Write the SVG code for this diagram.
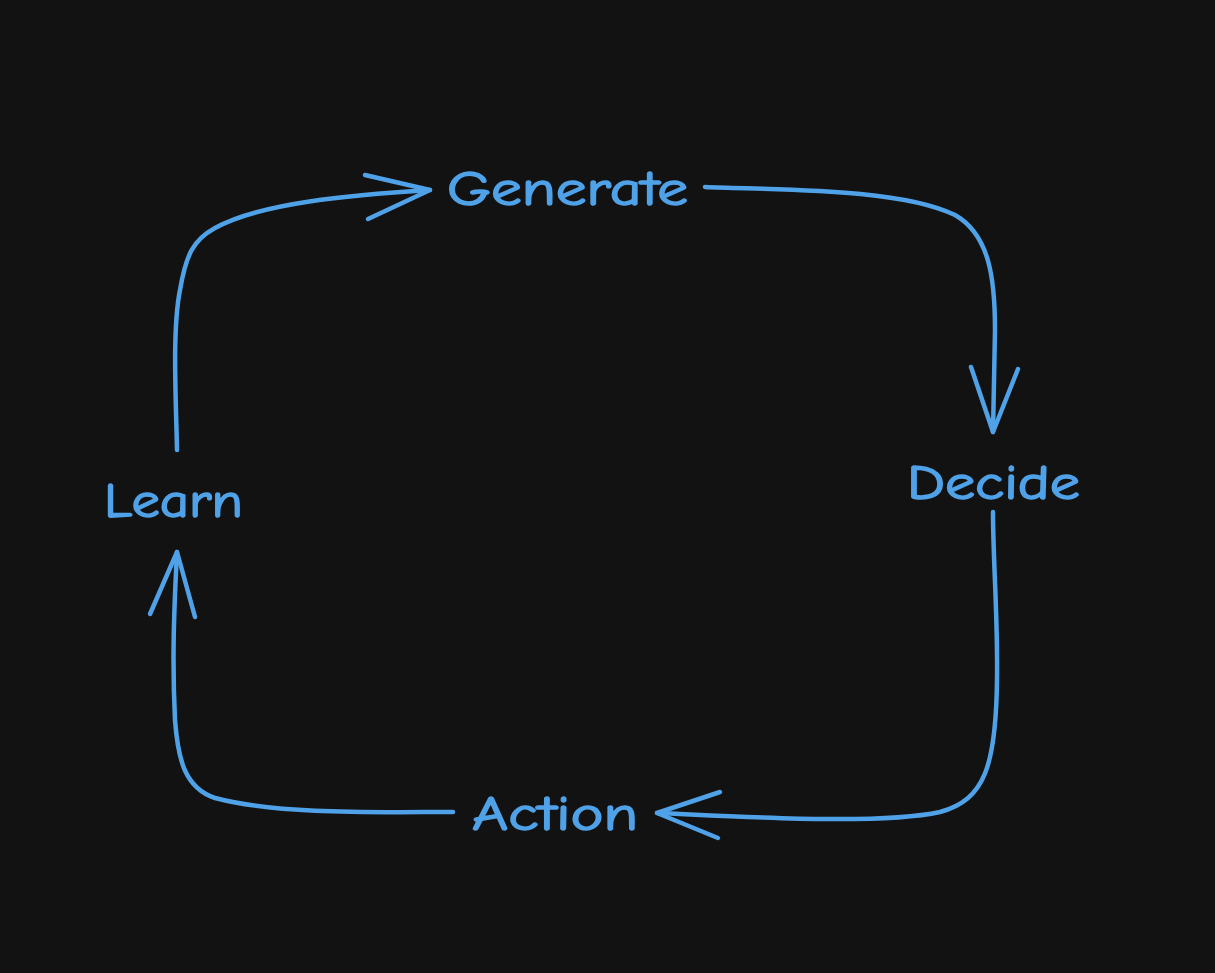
<svg xmlns="http://www.w3.org/2000/svg" width="1215" height="973" viewBox="0 0 1215 973">
<style>
.c{fill:none;stroke:#50a2e8;stroke-width:4.5;stroke-linecap:round;stroke-linejoin:round}
.t{fill:#50a2e8;stroke:#50a2e8;stroke-width:1.5;stroke-linejoin:round;font-family:"Comic Neue","Lato","Liberation Sans",sans-serif;font-size:48px}
</style>
<rect width="1215" height="973" fill="#121212"/>
<g id="connectors">
<path class="c" d="M177,450 C176,400 172,330 180,290 C186,255 193,240 215,228 C260,203 350,195 430,190"/>
<path class="c" d="M365,175 L430,190 L368,219"/>
<path class="c" d="M705,187 C780,190 900,188 955,215 C990,235 995,280 995,330 L993,432"/>
<path class="c" d="M971,367 L993,432 L1018,369"/>
<path class="c" d="M993,512 C993,560 998,620 997,680 C996,765 985,800 940,812 C880,825 750,817 657,813"/>
<path class="c" d="M720,792 L657,813 L718,838"/>
<path class="c" d="M453,812 C380,812 280,815 215,798 C185,788 178,760 175,720 C172,660 174,610 177,552"/>
<path class="c" d="M150,614 L177,552 L195,617"/>
</g>
<g id="generate"><text class="t" x="447" y="205" textLength="241" lengthAdjust="spacingAndGlyphs">Generate</text></g>
<g id="decide"><text class="t" x="907" y="499" textLength="173" lengthAdjust="spacingAndGlyphs">Decide</text></g>
<g id="action"><text class="t" x="472" y="830" textLength="166" lengthAdjust="spacingAndGlyphs">Action</text></g>
<g id="learn"><text class="t" x="104" y="517" textLength="139" lengthAdjust="spacingAndGlyphs">Learn</text></g>
</svg>
